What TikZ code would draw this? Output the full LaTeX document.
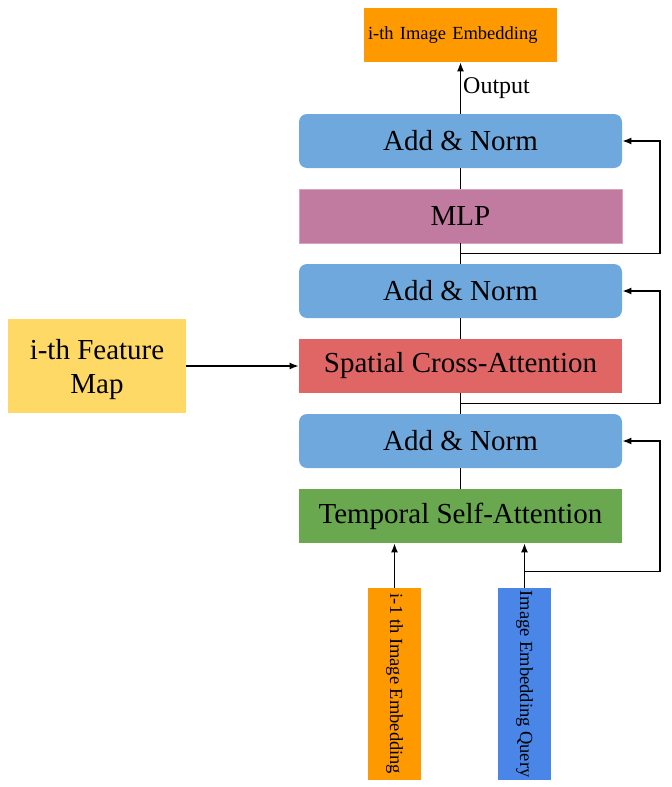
\documentclass[tikz,border=0pt]{standalone}
\usepackage{fontspec}
\setmainfont{Liberation Serif}
\usepackage{graphicx}
\usetikzlibrary{calc}
\usetikzlibrary{arrows.meta}

\begin{document}
\begin{tikzpicture}[x=0.5pt,y=0.5pt,node distance=37.5pt,>={Latex[length=4.5pt,width=3.5pt]}]
\definecolor{normblau}{HTML}{6FA8DC}
\definecolor{mlprosa}{HTML}{C27BA0}
\definecolor{mlprand}{HTML}{D9A3C0}
\definecolor{kreuzrot}{HTML}{E06666}
\definecolor{zeitgruen}{HTML}{6AA84F}
\definecolor{merkmalgelb}{HTML}{FFD966}
\definecolor{einbettorange}{HTML}{FF9900}
\definecolor{anfrageblau}{HTML}{4A86E8}
\tikzstyle{schicht}=[rectangle,minimum width=161.5pt,minimum height=27pt,inner sep=0pt,font=\fontsize{14.5}{17}\selectfont]
\tikzstyle{norm}=[schicht,fill=normblau,rounded corners=4pt]
\tikzstyle{einbettung}=[rectangle,inner sep=0pt,font=\fontsize{9.25}{11}\selectfont]
\tikzstyle{linie}=[line width=0.7pt]
\tikzstyle{pf}=[linie,->]

\useasboundingbox (0,0) rectangle (672,-787);

% Schichten des Blocks, von oben nach unten
\node[norm] (norm1) at (460.5,-141) {Add \& Norm};
\node[schicht,below of=norm1,fill=mlprosa,draw=mlprand] (mlp) {MLP};
\node[norm,below of=mlp] (norm2) {Add \& Norm};
\node[schicht,below of=norm2,fill=kreuzrot] (kreuz) {Spatial Cross-Attention};
\node[norm,below of=kreuz] (norm3) {Add \& Norm};
\node[schicht,below of=norm3,fill=zeitgruen] (zeit) {Temporal Self-Attention};

\node[einbettung,fill=einbettorange,minimum width=96.5pt,minimum height=27pt,text width=92.5pt,align=left] (ausgabe) at (460.5,-35) {i-th Image Embedding};

\node[rectangle,left of=kreuz,node distance=181.75pt,fill=merkmalgelb,minimum width=89pt,minimum height=47pt,text depth=0pt,align=center,font=\fontsize{14.5}{17}\selectfont] (merkmal) {i-th Feature\\Map};

\node[einbettung,fill=einbettorange,minimum width=26.5pt,minimum height=96pt] (vorher) at (394.5,-684) {\rotatebox{-90}{i-1 th Image Embedding}};
\node[einbettung,fill=anfrageblau,minimum width=26.5pt,minimum height=96pt] (anfrage) at (524.5,-684) {\rotatebox{-90}{Image Embedding Query}};

% Verbindungen im Block
\draw[linie] (norm1) -- (mlp);
\draw[linie] (mlp) -- (norm2);
\draw[linie] (norm2) -- (kreuz);
\draw[linie] (kreuz) -- (norm3);
\draw[linie] (norm3) -- (zeit);

\draw[pf] (norm1.north) to node[right,inner sep=1pt,font=\fontsize{12}{14}\selectfont] {Output} (ausgabe.south);
\draw[pf] (merkmal.east) -- (kreuz.west);
\draw[pf] (vorher.north) -- (vorher.north |- zeit.south);
\draw[pf] (anfrage.north) -- (anfrage.north |- zeit.south);

% Residualverbindungen rechts
\coordinate (rechts) at (660,0);
\coordinate (abzweig1) at ($(mlp.south)!0.5!(norm2.north)$);
\coordinate (abzweig2) at ($(kreuz.south)!0.5!(norm3.north)$);
\coordinate (abzweig3) at ($(anfrage.north)+(0,8pt)$);
\draw[pf] (abzweig1) -- (abzweig1 -| rechts) |- (norm1.east);
\draw[pf] (abzweig2) -- (abzweig2 -| rechts) |- (norm2.east);
\draw[pf] (abzweig3) -- (abzweig3 -| rechts) |- (norm3.east);
\end{tikzpicture}
\end{document}
